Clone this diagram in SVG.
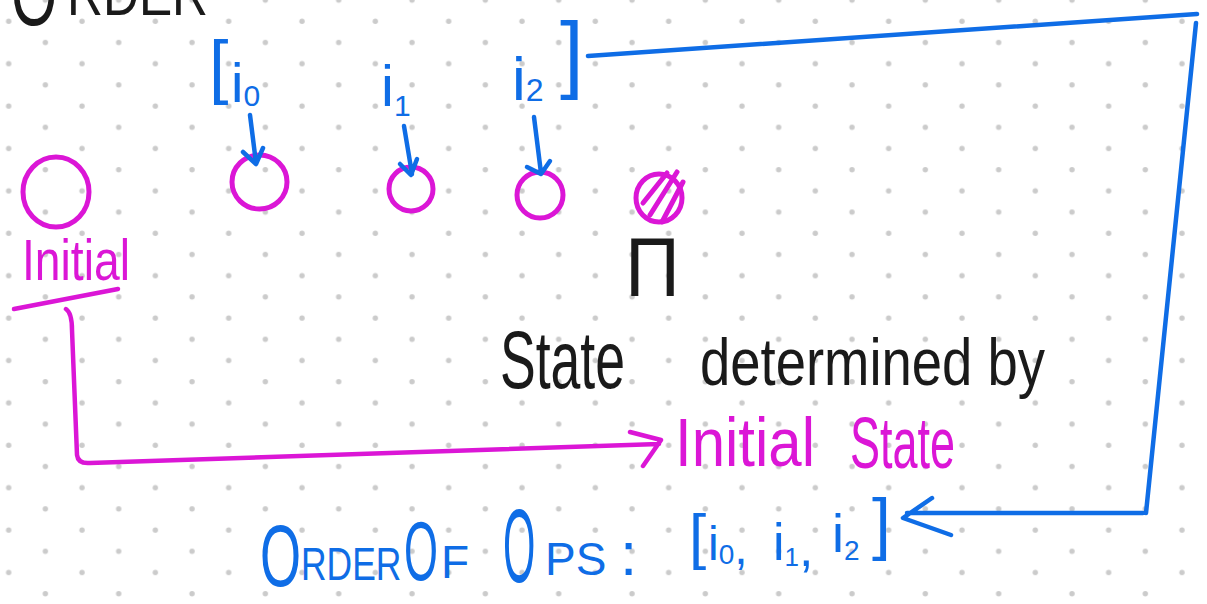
<svg xmlns="http://www.w3.org/2000/svg" width="1207" height="604" viewBox="0 0 1207 604">
  <defs>
    <pattern id="dots" x="-9.3" y="11.2" width="73.33" height="42.4" patternUnits="userSpaceOnUse">
      <circle cx="18" cy="10" r="2.7" fill="#cbcbcb"/>
      <circle cx="54.67" cy="31.2" r="2.7" fill="#cbcbcb"/>
    </pattern>
  </defs>
  <style>
    .ink { fill: none; stroke-linecap: round; stroke-linejoin: round; }
    .blue { stroke: #0f6de6; }
    .mag { stroke: #db16d6; }
    .blk { stroke: #1a1a1a; }
    .w4 { stroke-width: 4.5; }
    .w5 { stroke-width: 5; }
    text { font-family: "Liberation Sans", "DejaVu Sans", sans-serif; }
    .tb { fill: #0f6de6; }
    .tm { fill: #db16d6; }
    .tk { fill: #1a1a1a; }
  </style>
  <rect width="1207" height="604" fill="#ffffff"/>
  <rect width="1207" height="604" fill="url(#dots)"/>

  <!-- heading cut at the top -->
  <g id="heading-top">
    <text class="tk" font-size="90" transform="translate(11,25) scale(0.66,1)">O</text>
    <text class="tk" font-size="60" transform="translate(67,15) scale(0.83,1)">RDER</text>
  </g>

  <!-- top list of ops -->
  <g id="ops-list-top">
    <text class="tb" x="209" y="90" font-size="70">[</text>
    <text class="tb" x="231" y="102" font-size="56">i<tspan font-size="30" dy="4">0</tspan></text>
    <text class="tb" x="381" y="106" font-size="58">i<tspan font-size="30" dy="10">1</tspan></text>
    <text class="tb" x="512" y="100" font-size="62">i<tspan font-size="32" dy="1">2</tspan></text>
    <text class="tb" x="560" y="82" font-size="85">]</text>
  </g>

  <!-- state nodes -->
  <g id="node-initial">
    <ellipse class="ink mag w5" cx="56" cy="192" rx="33" ry="35"/>
    <text class="tm" x="22" y="280" font-size="58" textLength="108" lengthAdjust="spacingAndGlyphs">Initial</text>
  </g>
  <g id="node-s0">
    <ellipse class="ink mag w5" cx="259.5" cy="182" rx="27.5" ry="27"/>
  </g>
  <g id="node-s1">
    <ellipse class="ink mag w5" cx="411" cy="189" rx="22" ry="22"/>
  </g>
  <g id="node-s2">
    <ellipse class="ink mag w5" cx="540" cy="195" rx="23" ry="23"/>
  </g>
  <g id="node-pi">
    <ellipse class="ink mag w5" cx="659" cy="198" rx="23" ry="24"/>
    <path class="ink mag w5" d="M643,203 L667,173 M650,215 L677,172 M662,222 L683,182"/>
    <text class="tk" x="625" y="296" font-size="84" textLength="55" lengthAdjust="spacingAndGlyphs">Π</text>
  </g>

  <!-- statement -->
  <g id="statement">
    <text class="tk"><tspan x="500" y="388" font-size="82" textLength="125" lengthAdjust="spacingAndGlyphs">State</tspan><tspan x="700" y="385" font-size="66" textLength="345" lengthAdjust="spacingAndGlyphs">determined by</tspan></text>
  </g>
  <g id="initial-state">
    <text class="tm"><tspan x="675" y="466" font-size="68" textLength="140" lengthAdjust="spacingAndGlyphs">Initial</tspan><tspan x="850" y="468" font-size="72" textLength="105" lengthAdjust="spacingAndGlyphs">State</tspan></text>
  </g>

  <!-- order of ops -->
  <g id="order-of-ops">
    <text class="tb" font-size="88" transform="translate(260,586) scale(0.6,1)">O</text>
    <text class="tb" font-size="46" transform="translate(301,580) scale(0.77,1)">RDER</text>
    <text class="tb" font-size="84" transform="translate(404,580) scale(0.52,1)">O</text>
    <text class="tb" x="441" y="578" font-size="46">F</text>
    <text class="tb" font-size="104" transform="translate(503,582) scale(0.4,1)">O</text>
    <text class="tb" x="545" y="575" font-size="46">PS</text>
    <text class="tb" x="620" y="575" font-size="62">:</text>
  </g>
  <g id="ops-list-bottom">
    <text class="tb" x="689" y="557" font-size="62">[</text>
    <text class="tb" x="708" y="560" font-size="48">i<tspan font-size="28" dy="4">0</tspan>,</text>
    <text class="tb" x="773" y="560" font-size="52">i<tspan font-size="26" dy="6">1</tspan>,</text>
    <text class="tb" x="832" y="552" font-size="54">i<tspan font-size="28" dy="8">2</tspan></text>
    <text class="tb" x="872" y="547" font-size="68">]</text>
  </g>

  <!-- connectors -->
  <g id="connectors">
    <path class="ink blue w4" d="M250,115 L256,163 M243,152 L256,164 L263,148"/>
    <path class="ink blue w4" d="M404,126 L412,174 M400,164 L411,175 L417,159"/>
    <path class="ink blue w4" d="M534,117 L541,173 M527,167 L541,174 L550,161"/>
    <path class="ink blue w4" d="M588,56 L1197,14 M1196,23 L1146,513 M1143,513 L907,513 M932,498 L903,518 L951,535"/>
    <path class="ink mag w4" d="M14,309 L118,289"/>
    <path class="ink mag w4" d="M66,309 Q72,313 72,330 L77,455 Q78,464 90,463 L659,444 M630,432 L661,440 L643,466"/>
  </g>
</svg>
